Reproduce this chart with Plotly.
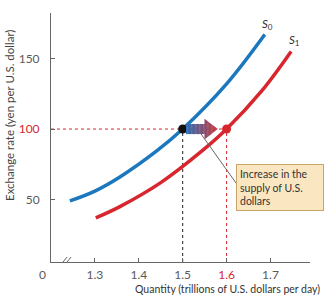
import plotly.graph_objects as go

# ---- data ----
s0_x = [1.243, 1.30, 1.357, 1.443, 1.50, 1.60, 1.687]
s0_y = [49, 56, 66, 85, 100, 132, 167]
s1_x = [1.302, 1.357, 1.45, 1.546, 1.60, 1.68, 1.747]
s1_y = [37, 45, 62, 85, 100, 127, 155]
eq0 = (1.5, 100)
eq1 = (1.6, 100)
x_ticks = [1.3, 1.4, 1.5, 1.6, 1.7]
y_ticks = [50, 100, 150]
callout_text = "Increase in the<br>supply of U.S.<br>dollars"

BLUE = "#1b78bf"
RED = "#d8262e"
GRAY = "#5a5a5a"
FONT = "Lato"

XR = [1.2, 1.79]
YR = [5.7, 182.3]

fig = go.Figure()

# dotted guide lines
fig.add_trace(go.Scatter(x=[XR[0], eq1[0]], y=[eq1[1], eq1[1]], mode="lines",
                         line=dict(color=RED, width=1, dash="dot"), hoverinfo="skip"))
fig.add_trace(go.Scatter(x=[eq0[0], eq0[0]], y=[YR[0], eq0[1]], mode="lines",
                         line=dict(color="#222222", width=1, dash="dot"), hoverinfo="skip"))
fig.add_trace(go.Scatter(x=[eq1[0], eq1[0]], y=[YR[0], eq1[1]], mode="lines",
                         line=dict(color=RED, width=1, dash="dot"), hoverinfo="skip"))

# curves
fig.add_trace(go.Scatter(x=s0_x, y=s0_y, mode="lines", line=dict(color=BLUE, width=3.5, shape="spline"),
                         hoverinfo="skip"))
fig.add_trace(go.Scatter(x=s1_x, y=s1_y, mode="lines", line=dict(color=RED, width=3.5, shape="spline"),
                         hoverinfo="skip"))

shapes = []
# gradient arrow between equilibria
dx = eq1[0] - eq0[0]
xs = eq0[0] + 0.075 * dx
xh = eq0[0] + 0.50 * dx
xt = eq0[0] + 0.80 * dx
yc = eq0[1]
hb, hh = 3.6, 7.2
c0 = (45, 110, 182)
c1 = (205, 55, 60)
N = 24
def col(t):
    return "rgb(%d,%d,%d)" % tuple(round(a + (b - a) * t) for a, b in zip(c0, c1))
def half(x):
    if x <= xh:
        return hb
    return hh * max(0.0, (xt - x) / (xt - xh))
for i in range(N):
    t0, t1 = i / N, (i + 1) / N
    xa = xs + (xt - xs) * t0
    xb = min(xs + (xt - xs) * t1 + 0.0008, xt)
    if xb <= xh:
        path = f"M{xa},{yc-hb} L{xb},{yc-hb} L{xb},{yc+hb} L{xa},{yc+hb} Z"
    elif xa >= xh:
        ha, hbb = half(xa), half(xb)
        path = f"M{xa},{yc-ha} L{xb},{yc-hbb} L{xb},{yc+hbb} L{xa},{yc+ha} Z"
    else:
        path = (f"M{xa},{yc-hb} L{xh},{yc-hb} L{xh},{yc-hh} L{xb},{yc-half(xb)} "
                f"L{xb},{yc+half(xb)} L{xh},{yc+hh} L{xh},{yc+hb} L{xa},{yc+hb} Z")
    shapes.append(dict(type="path", path=path, xref="x", yref="y",
                       fillcolor=col((t0 + t1) / 2), line=dict(width=0), layer="above"))

# leader line from arrow to callout
shapes.append(dict(type="line", xref="x", yref="y", x0=1.537, y0=98.6, x1=1.622, y1=61.5,
                   line=dict(color="#666666", width=1), layer="above"))

# axis break marks
for off in (-2, 2):
    shapes.append(dict(type="line", xref="x", yref="y", xsizemode="pixel", ysizemode="pixel",
                       xanchor=1.232, yanchor=YR[0], x0=off - 4, y0=-5, x1=off + 4, y1=5,
                       line=dict(color="#666666", width=1)))

fig.update_layout(shapes=shapes)

# equilibrium points
fig.add_trace(go.Scatter(x=[eq0[0]], y=[eq0[1]], mode="markers",
                         marker=dict(color="#111111", size=9), hoverinfo="skip"))
fig.add_trace(go.Scatter(x=[eq1[0]], y=[eq1[1]], mode="markers",
                         marker=dict(color=RED, size=9), hoverinfo="skip"))

ann = []
ann.append(dict(x=s0_x[-1], y=s0_y[-1], xref="x", yref="y", text="<i>S</i><sub>0</sub>",
                showarrow=False, xanchor="center", yanchor="bottom", xshift=3, yshift=1,
                font=dict(family=FONT, size=11.5, color="#333333")))
ann.append(dict(x=s1_x[-1], y=s1_y[-1], xref="x", yref="y", text="<i>S</i><sub>1</sub>",
                showarrow=False, xanchor="center", yanchor="bottom", xshift=3, yshift=1,
                font=dict(family=FONT, size=11.5, color="#333333")))
ann.append(dict(x=1.621, y=75.2, xref="x", yref="y", text=callout_text, showarrow=False,
                xanchor="left", yanchor="top", align="left", width=80,
                bgcolor="#fbe6c2", bordercolor="#c9a467", borderwidth=1, borderpad=3,
                font=dict(family=FONT, size=10.5, color="#333333")))
ann.append(dict(x=0, y=0, xref="paper", yref="paper", text="0", showarrow=False,
                xanchor="center", yanchor="top", xshift=-9, yshift=-3,
                font=dict(family=FONT, size=12, color=GRAY)))
# y title: paper coords relative to plot area (l=51, plot width 259, plot height 249, bottom at 262 px)
ann.append(dict(x=(9 - 51) / 259, y=(262 - 116) / 249, xref="paper", yref="paper",
                xanchor="center", yanchor="middle",
                text="Exchange rate (yen per U.S. dollar)", textangle=-90, showarrow=False,
                font=dict(family=FONT, size=11.5, color="#444444")))
ann.append(dict(x=1, y=0, xref="paper", yref="paper", xanchor="right", yanchor="top",
                xshift=12, yshift=-19, text="Quantity (trillions of U.S. dollars per day)",
                showarrow=False, font=dict(family=FONT, size=10.5, color="#333333")))

def xlab(v):
    s = f"{v:.1f}"
    return f"<span style='color:{RED}'>{s}</span>" if v == eq1[0] else s
def ylab(v):
    return f"<span style='color:{RED}'>{v}</span>" if v == eq1[1] else str(v)

fig.update_layout(
    width=325, height=300, autosize=False,
    margin=dict(l=51, r=15, t=13, b=38),
    paper_bgcolor="white", plot_bgcolor="white",
    showlegend=False,
    annotations=ann,
    xaxis=dict(range=XR, tickvals=x_ticks, ticktext=[xlab(v) for v in x_ticks],
               ticks="inside", ticklen=4, tickcolor="#666666", showgrid=False, zeroline=False,
               showline=True, linecolor="#666666", linewidth=1, ticklabelstandoff=2,
               tickfont=dict(family=FONT, size=12, color=GRAY), fixedrange=True),
    yaxis=dict(range=YR, tickvals=y_ticks, ticktext=[ylab(v) for v in y_ticks],
               ticks="inside", ticklen=4, tickcolor="#666666", showgrid=False, zeroline=False,
               showline=True, linecolor="#666666", linewidth=1, ticklabelstandoff=8,
               tickfont=dict(family=FONT, size=12, color=GRAY), fixedrange=True),
)

fig.write_html("out.html")
